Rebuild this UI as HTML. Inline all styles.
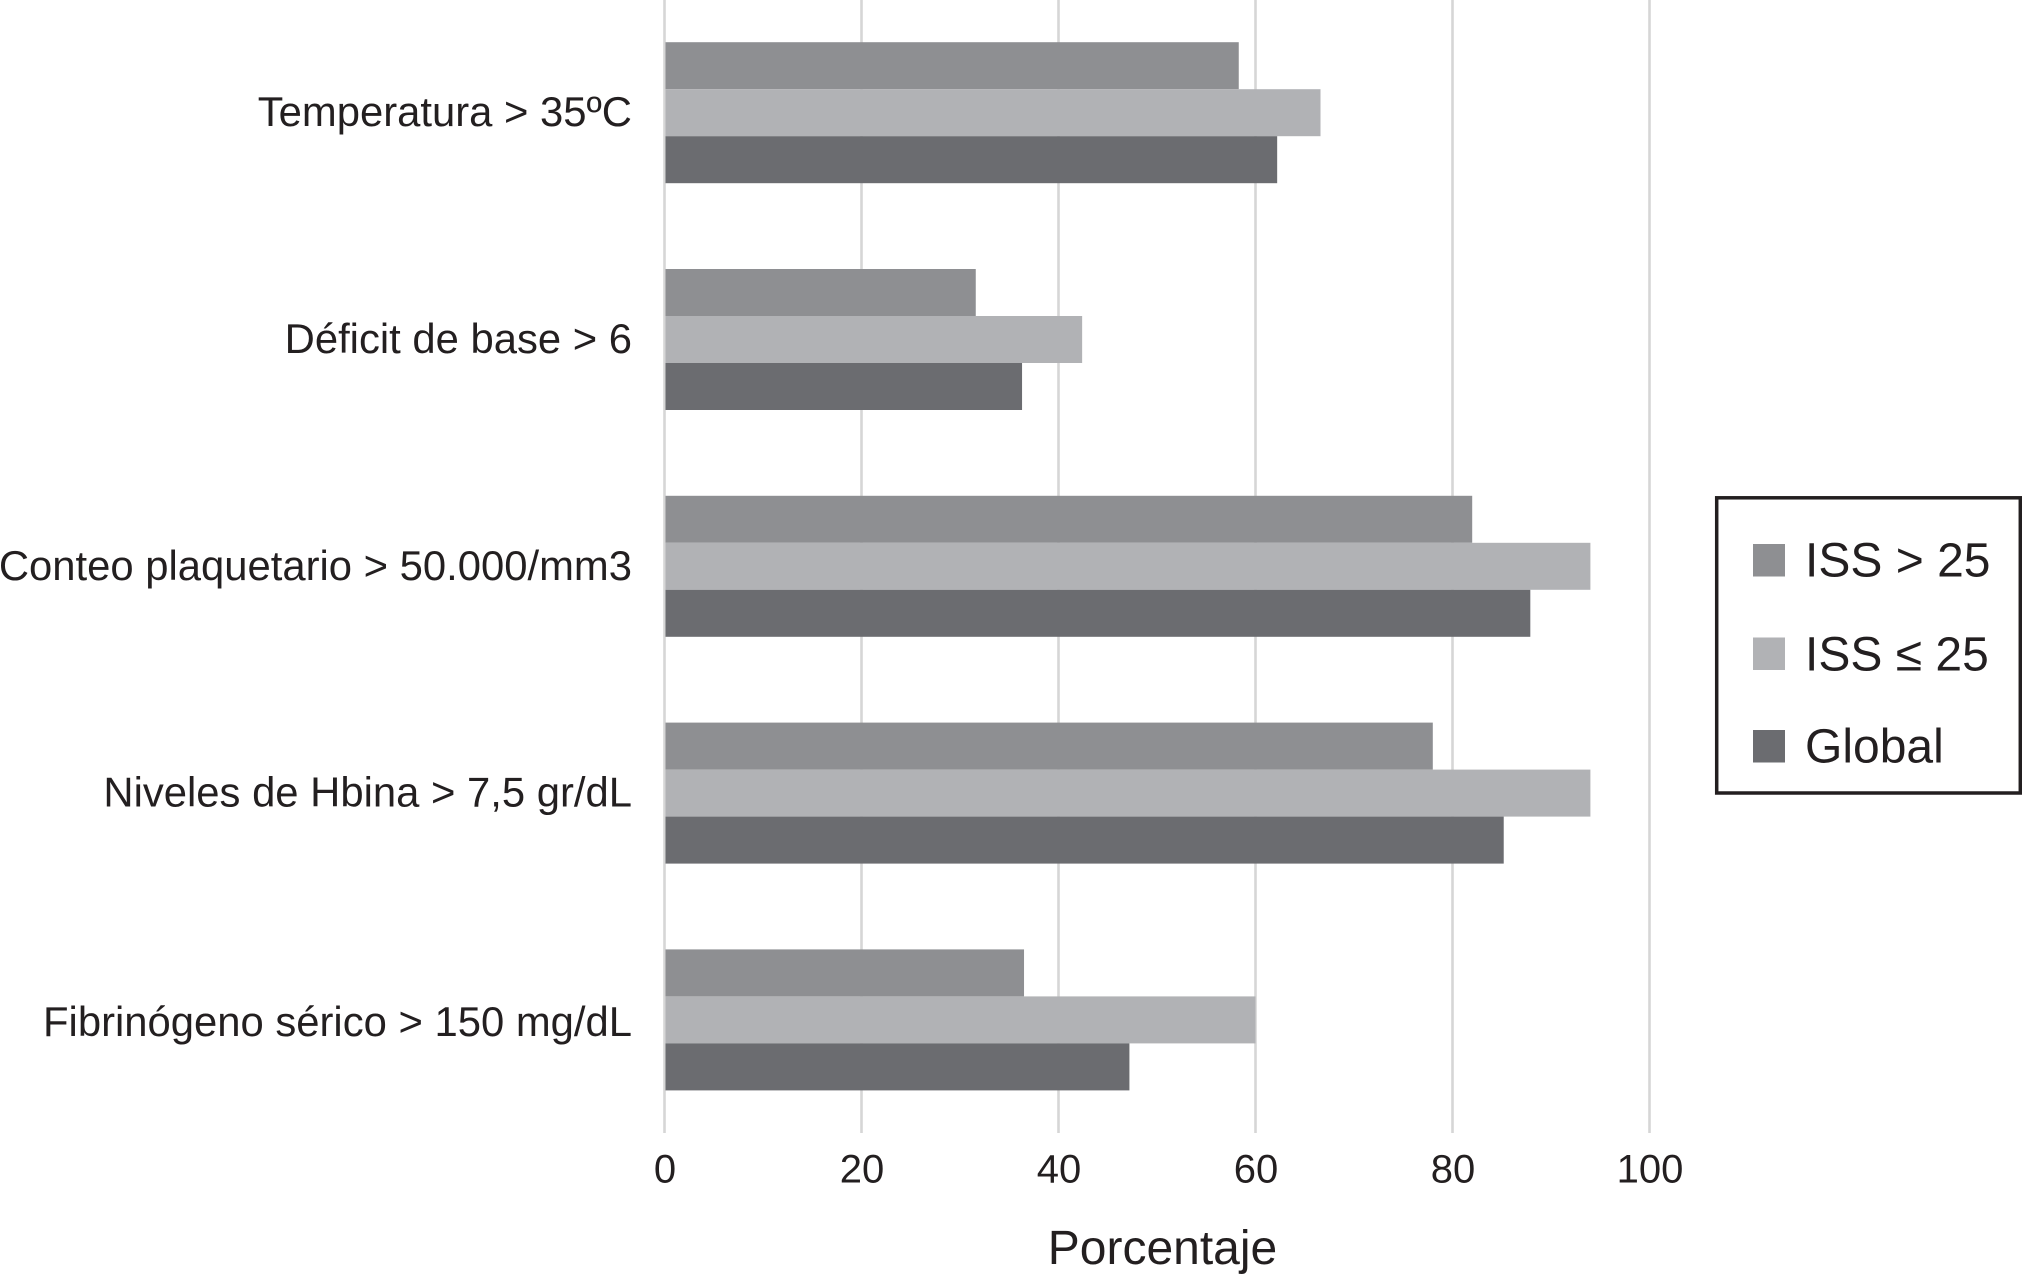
<!DOCTYPE html>
<html lang="es">
<head>
<meta charset="utf-8">
<title>Porcentaje por variable</title>
<style>
  html, body { margin: 0; padding: 0; background: #fff; }
  svg { display: block; }
  text { font-family: "Liberation Sans", Arial, sans-serif; fill: #231f20; }
</style>
</head>
<body>
<svg id="chart" xmlns="http://www.w3.org/2000/svg" width="2022" height="1275" viewBox="0 0 2022 1275">
  <rect x="0" y="0" width="2022" height="1275" fill="#ffffff"/>
  <g id="grid"></g>
  <g id="bars"></g>
  <g id="yaxis"></g>
  <g id="xaxis"></g>
  <text x="1162.5" y="1264" font-size="48" text-anchor="middle">Porcentaje</text>
  <g id="legend">
    <rect x="1716.7" y="497.8" width="303.6" height="295.2" fill="#ffffff" stroke="#231f20" stroke-width="3.5"/>
  </g>
</svg>
<script>
const categories = ["Temperatura > 35ºC", "Déficit de base > 6", "Conteo plaquetario > 50.000/mm3", "Niveles de Hbina > 7,5 gr/dL", "Fibrinógeno sérico > 150 mg/dL"];
const issHigh = [58.3, 31.6, 82, 78, 36.5];
const issLow = [66.6, 42.4, 94, 94, 60];
const globalValues = [62.2, 36.3, 87.9, 85.2, 47.2];
const xTicks = [0, 20, 40, 60, 80, 100];
const seriesNames = ["ISS > 25", "ISS ≤ 25", "Global"];

const NS = "http://www.w3.org/2000/svg";
const seriesValues = [issHigh, issLow, globalValues];
const seriesColors = ["#8e8f92", "#b1b2b5", "#6b6c70"];
const seriesKeys = ["iss-high", "iss-low", "global"];
const xScale = v => 664.5 + v * 9.85;
const yCenter = i => 112.7 + i * 226.8;
const barHeight = 47;

const grid = document.getElementById("grid");
const bars = document.getElementById("bars");
const yaxis = document.getElementById("yaxis");
const xaxis = document.getElementById("xaxis");
const legend = document.getElementById("legend");

function make(tag, attrs, parent, content) {
  const el = document.createElementNS(NS, tag);
  for (const k in attrs) el.setAttribute(k, attrs[k]);
  if (content !== undefined) el.textContent = content;
  parent.appendChild(el);
  return el;
}

xTicks.forEach(t => {
  const line = make("line", { x1: xScale(t), x2: xScale(t), y1: 0, y2: 1133, stroke: "#d6d6d6", "stroke-width": 2.6 }, grid);
  
  
  const label = make("text", { x: xScale(t) + 0.5, y: 1182.5, "font-size": 40, "text-anchor": "middle" }, xaxis, String(t));
  
  
});

categories.forEach((c, i) => {
  const baselineShift = i === categories.length - 1 ? 16 : 13.5;
  const label = make("text", { x: 632, y: yCenter(i) + baselineShift, "font-size": 41.8, "text-anchor": "end" }, yaxis, c);
  
  
  seriesValues.forEach((vals, s) => {
    const top = yCenter(i) - barHeight * 1.5 + s * barHeight;
    const bar = make("rect", { x: xScale(0) + 1, y: top, width: xScale(vals[i]) - xScale(0) - 1, height: barHeight, fill: seriesColors[s] }, bars);
    
    
  });
});

const legendSwatchY = [544, 637.5, 730];
const legendTextY = [576.7, 670.7, 762.7];
seriesNames.forEach((n, s) => {
  const sw = make("rect", { x: 1753, y: legendSwatchY[s], width: 32, height: 32.5, fill: seriesColors[s] }, legend);
  
  
  const t = make("text", { x: 1805, y: legendTextY[s], "font-size": 48 }, legend, n);
  
  
});
</script>
</body>
</html>
